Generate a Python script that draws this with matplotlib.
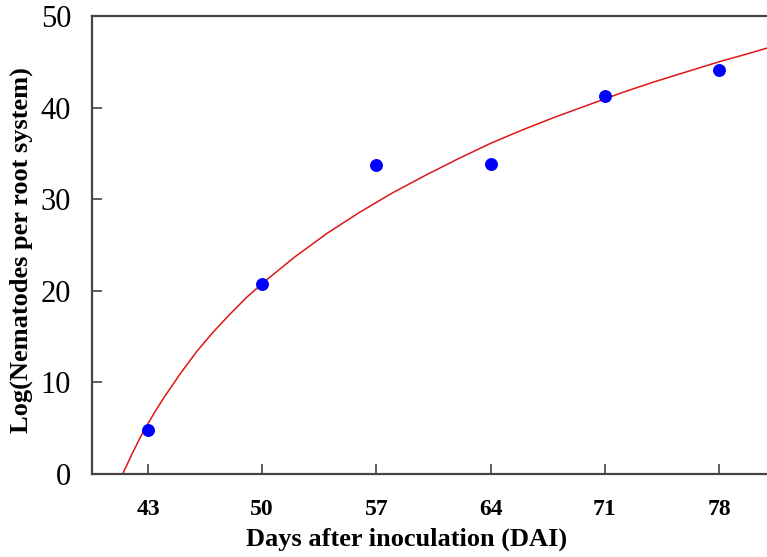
import matplotlib
matplotlib.use('Agg')
import matplotlib.pyplot as plt

# observed points
days = [43, 50, 57, 64, 71, 78]
nematodes = [4.8, 20.7, 33.7, 33.8, 41.3, 44.1]

# fitted curve
fit_x = [41.45, 42.0, 42.5, 43.0, 43.5, 44.0, 45.0, 46.0, 47.0, 48.0, 49.0, 50.0,
         52.0, 54.0, 56.0, 58.0, 60.0, 62.0, 64.0, 66.0, 68.0, 70.0, 72.0,
         74.0, 76.0, 78.0, 80.0, 80.95]
fit_y = [0.0, 2.1, 3.9, 5.5, 7.0, 8.4, 11.0, 13.4, 15.5, 17.4, 19.2, 20.8,
         23.7, 26.3, 28.6, 30.7, 32.6, 34.4, 36.1, 37.6, 39.0, 40.3, 41.6,
         42.8, 43.9, 45.0, 46.0, 46.5]

xticks = [43, 50, 57, 64, 71, 78]
yticks = [0, 10, 20, 30, 40, 50]

plt.rcParams['font.family'] = ['Liberation Serif', 'DejaVu Serif']

fig = plt.figure(figsize=(7.67, 5.57), dpi=100)
ax = fig.add_axes([92/767, 1 - 474/557, 1 - 92/767, 458/557])

ax.plot(fit_x, fit_y, '-', color='#e01515', lw=1.1, zorder=2)
ax.plot(days, nematodes, 'o', color='#0000ff', ms=8.3, zorder=3)

ax.set_xlim(39.57, 80.94)
ax.set_ylim(0, 50)
ax.set_xticks(xticks)
ax.set_yticks(yticks)
ax.set_xticklabels([str(t) for t in xticks], fontsize=17, fontweight='bold')
ax.set_yticklabels([str(t) for t in yticks], fontsize=22)
ax.tick_params(direction='in', length=7, width=1.2, color='#444444')
ax.tick_params(axis='x', pad=18)
ax.tick_params(axis='y', pad=15)

for s in ['left', 'bottom', 'top']:
    ax.spines[s].set_linewidth(1.6)
    ax.spines[s].set_color('#444444')
ax.spines['right'].set_visible(False)

ax.set_xlabel("Days after inoculation (DAI)", fontsize=19, fontweight='bold')
ax.set_ylabel("Log(Nematodes per root system)", fontsize=19, fontweight='bold')
ax.xaxis.set_label_coords(0.4667, -0.118)
ax.yaxis.set_label_coords(-0.088, 0.49)

fig.savefig('out.png', dpi=100)
